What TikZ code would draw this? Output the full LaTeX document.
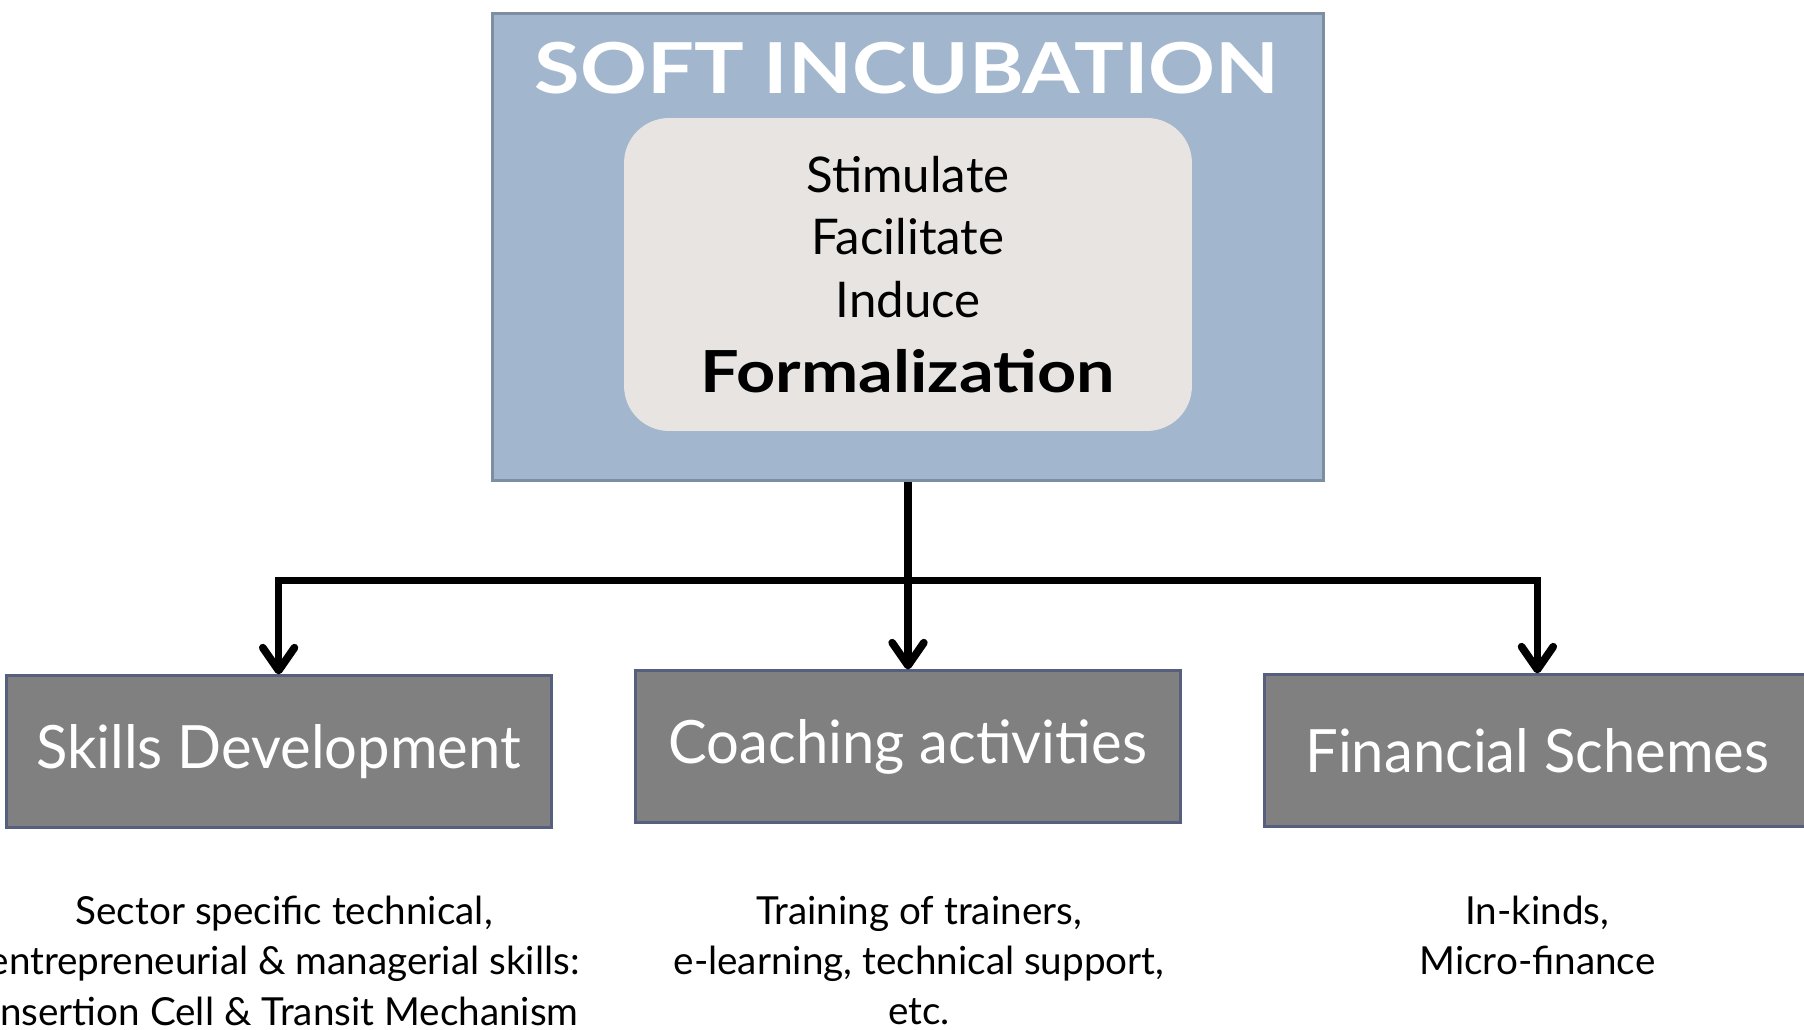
\documentclass[tikz,border=0pt]{standalone}
\usepackage{fontspec}
\setmainfont{Lato}
\newfontfamily\broadfont[FakeStretch=1.18]{Lato}
\newfontfamily\slimfont[FakeStretch=0.97]{Lato}
\usetikzlibrary{shapes,arrows.meta,positioning}
\definecolor{softblue}{HTML}{A2B7CD}
\definecolor{softedge}{HTML}{7D8EA3}
\definecolor{corefill}{HTML}{E8E4E1}
\definecolor{catfill}{HTML}{808080}
\definecolor{catedge}{HTML}{56607E}
\tikzstyle{softbox} = [draw=softedge, fill=softblue, line width=1.7pt,
    minimum width=16.64cm, minimum height=9.36cm, inner sep=0pt]
\tikzstyle{corebox} = [fill=corefill, rounded corners=0.9cm, align=center,
    minimum width=11.36cm, minimum height=6.26cm, inner sep=0pt,
    font=\fontsize{28}{35.7}\selectfont]
\tikzstyle{headline} = [anchor=base, text=white, inner sep=0pt,
    font=\fontsize{40}{48}\broadfont\bfseries]
\tikzstyle{catbox} = [draw=catedge, fill=catfill, line width=1.7pt,
    minimum width=10.9cm, minimum height=3.04cm, text=white,
    font=\fontsize{34}{42}\slimfont]
\tikzstyle{notes} = [align=center, inner sep=0pt, anchor=north,
    font=\fontsize{22}{28.6}\selectfont]
\tikzstyle{feed} = [line width=4.4pt, -{Straight Barb[length=13pt, width=18pt, round]}]

\begin{document}
\begin{tikzpicture}[x=0.02cm, y=-0.02cm]
  \clip (0,0) rectangle (1804,1030);
  \node [softbox] (soft) at (908,247) {};
  \node [headline] (head) at (907,94) {SOFT INCUBATION};
  \node [corebox, below of=soft, node distance=0.55cm] (core)
    {Stimulate\\Facilitate\\Induce\\[7pt]{\fontsize{33}{40}\broadfont\bfseries Formalization}};
  \node [catbox, below of=soft, node distance=10cm] (coach) {Coaching activities};
  \node [catbox, left of=coach, node distance=12.59cm, yshift=-0.1cm] (skills) {Skills Development};
  \node [catbox, right of=coach, node distance=12.59cm, yshift=-0.08cm] (finance) {Financial Schemes};
  \node [notes, below=1.33cm of skills, xshift=0.11cm] (skillsnote)
    {Sector specific technical,\\entrepreneurial \& managerial skills:\\Insertion Cell \& Transit Mechanism};
  \node [notes, below=1.43cm of coach, xshift=0.22cm] (coachnote)
    {Training of trainers,\\e-learning, technical support,\\etc.};
  \node [notes, below=1.35cm of finance] (financenote) {In-kinds,\\Micro-finance};
  \coordinate (fork) at ([yshift=-1.96cm]soft.south);
  \draw [feed] (soft.south) -- (coach.north);
  \draw [feed] (fork) -| (skills.north);
  \draw [feed] (fork) -| (finance.north);
\end{tikzpicture}
\end{document}
